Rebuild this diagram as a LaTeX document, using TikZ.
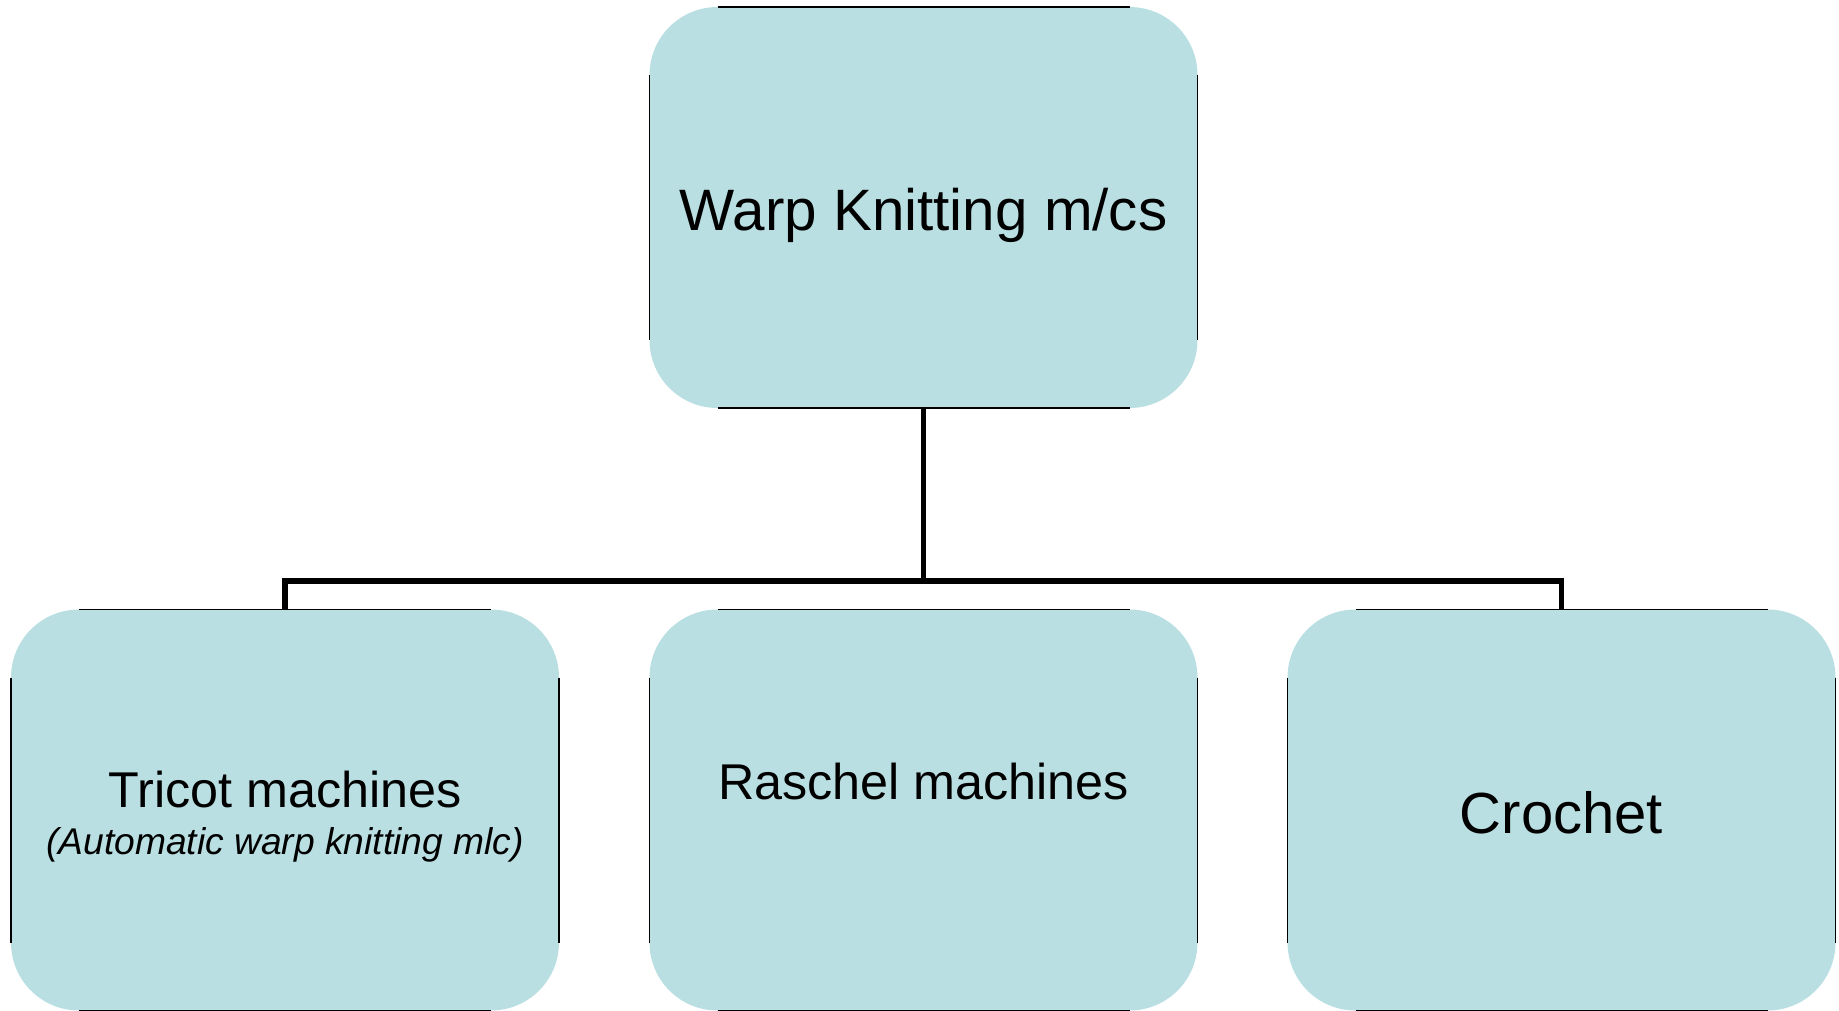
\documentclass[tikz,border=0pt]{standalone}
\usepackage{fontspec}
\setmainfont{Liberation Sans}
\definecolor{boxfill}{RGB}{185,223,226}
\begin{document}
\begin{tikzpicture}[x=1pt,y=-1pt,
  box/.style={fill=boxfill, draw=none, rounded corners=68pt, minimum width=548pt, minimum height=401pt, inner sep=0pt, outer sep=0pt},
  edge/.style={draw=black, line width=1.6pt},
  conn/.style={draw=black, line width=5.5pt, line join=miter},
  lbl/.style={inner sep=0pt, align=center, text=black}]
\useasboundingbox (0,0) rectangle (1839,1011);
\node[box] (top) at (923.5,207.5) {};
\node[box] (tricot) at (285,810) {};
\node[box] (raschel) at (923.5,810) {};
\node[box] (crochet) at (1561.5,810) {};
\foreach \b in {top,tricot,raschel,crochet}{
  \draw[edge] ([xshift=68pt]\b.north west) -- ([xshift=-68pt]\b.north east);
  \draw[edge] ([xshift=68pt]\b.south west) -- ([xshift=-68pt]\b.south east);
  \draw[edge] ([yshift=-68pt]\b.north west) -- ([yshift=68pt]\b.south west);
  \draw[edge] ([yshift=-68pt]\b.north east) -- ([yshift=68pt]\b.south east);
}
\coordinate (bus) at (923.5,581);
\draw[conn] (top.south) -- (bus);
\draw[conn] (tricot.north) |- (bus);
\draw[conn] (crochet.north) |- (bus);
\node[lbl, font=\fontsize{58.4}{70}\selectfont] (ltop) at (923.5,215) {Warp Knitting m/cs};
\node[lbl, font=\fontsize{50.3}{60}\selectfont] (ltri) at (285,790) {Tricot machines};
\node[lbl, font=\itshape\fontsize{37.2}{45}\selectfont] (ltri2) at (285,845) {(Automatic warp knitting mlc)};
\node[lbl, font=\fontsize{50.3}{60}\selectfont] (lras) at (923.5,782) {Raschel machines};
\node[lbl, font=\fontsize{58}{70}\selectfont] (lcro) at (1561.5,813) {Crochet};
\end{tikzpicture}
\end{document}
